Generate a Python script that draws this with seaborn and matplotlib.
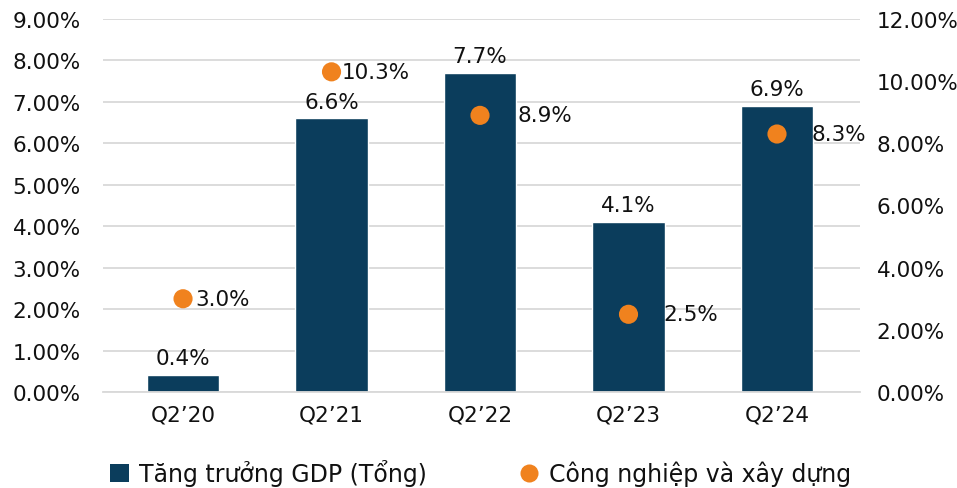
import matplotlib
matplotlib.use("Agg")
import matplotlib.pyplot as plt
import seaborn as sns
import pandas as pd
from matplotlib.lines import Line2D
from matplotlib.patches import Patch

categories = ["Q2\u201920", "Q2\u201921", "Q2\u201922", "Q2\u201923", "Q2\u201924"]
gdp_total = [0.4, 6.6, 7.7, 4.1, 6.9]
industry_construction = [3.0, 10.3, 8.9, 2.5, 8.3]
left_ticks = [0, 1, 2, 3, 4, 5, 6, 7, 8, 9]
right_ticks = [0, 2, 4, 6, 8, 10, 12]
point_label_offsets = [9, 7, 27, 25, 25]

series_bar = "T\u0103ng tr\u01b0\u1edfng GDP (T\u1ed5ng)"
series_dot = "C\u00f4ng nghi\u1ec7p v\u00e0 x\u00e2y d\u1ef1ng"

BAR = "#0B3D5C"
DOT = "#F0821E"
GRID = "#D9D9D9"
TXT = "#111111"
FS = 15.5

sns.set_theme(style="white")
plt.rcParams['font.family'] = ['DejaVu Sans']
plt.rcParams['font.size'] = FS
plt.rcParams['text.color'] = TXT

df = pd.DataFrame({"cat": categories, "gdp": gdp_total, "ind": industry_construction})

fig = plt.figure(figsize=(9.57, 4.89), dpi=100)
ax = fig.add_axes([103/957, 1-393/489, (860-103)/957, (393-20)/489])
sns.barplot(data=df, x="cat", y="gdp", color=BAR, width=0.49, ax=ax, saturation=1)
ax.set_xlim(-0.539, 4.559)
ax.set_ylim(0, 9)
ax.set_yticks(left_ticks)
ax.set_yticklabels([f"{t:.2f}%" for t in left_ticks], fontsize=FS, color=TXT)
ax.set_xlabel("")
ax.set_ylabel("")
ax.tick_params(axis="x", length=0, pad=9, labelsize=FS, colors=TXT)
ax.tick_params(axis="y", length=0, pad=16)
ax.grid(axis="y", color=GRID, linewidth=1.3)
ax.set_axisbelow(True)
for s in ["top", "right", "left"]:
    ax.spines[s].set_visible(False)
ax.spines["bottom"].set_color(GRID)
ax.spines["bottom"].set_linewidth(1.3)

for i, v in enumerate(gdp_total):
    ax.annotate(f"{v:.1f}%", (i, v), xytext=(0, 5), textcoords="offset points",
                ha="center", va="bottom", fontsize=FS, color=TXT)

ax2 = ax.twinx()
sns.scatterplot(data=df, x="cat", y="ind", color=DOT, s=190, edgecolor="none", ax=ax2, zorder=5)
ax2.set_xlim(-0.539, 4.559)
ax2.set_ylim(0, 12)
ax2.set_yticks(right_ticks)
ax2.set_yticklabels([f"{t:.2f}%" for t in right_ticks], fontsize=FS, color=TXT)
ax2.set_ylabel("")
ax2.tick_params(axis="y", length=0, pad=12)
ax2.grid(False)
for s in ["top", "right", "left", "bottom"]:
    ax2.spines[s].set_visible(False)
for i, v in enumerate(industry_construction):
    ax2.annotate(f"{v:.1f}%", (i, v), xytext=(point_label_offsets[i], 0), textcoords="offset points",
                 ha="left", va="center", fontsize=FS, color=TXT)

handles = [Patch(facecolor=BAR, edgecolor="none"),
           Line2D([0], [0], marker="o", linestyle="none", markerfacecolor=DOT,
                  markeredgecolor="none", markersize=13)]
fig.legend(handles, [series_bar, series_dot], loc="center", bbox_to_anchor=(0.502, 0.031),
           ncol=2, frameon=False, fontsize=17, columnspacing=3.9, handlelength=0.8,
           handleheight=0.8, handletextpad=0.45, labelcolor=TXT)

fig.savefig("out.png", dpi=100)
